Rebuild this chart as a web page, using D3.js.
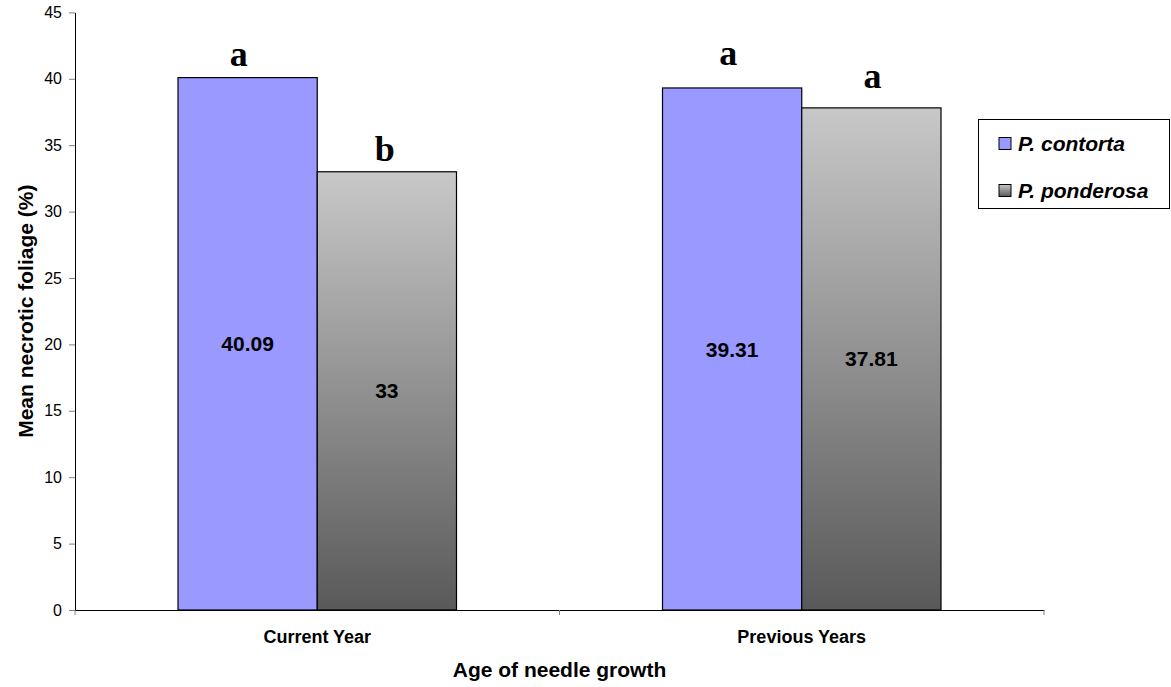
<!DOCTYPE html>
<html>
<head>
<meta charset="utf-8">
<script src="https://cdn.jsdelivr.net/npm/d3@7"></script>
<style>
  body { margin: 0; background: #fff; }
  text { font-family: Arial, "Liberation Sans", sans-serif; }
</style>
</head>
<body>
<svg width="1171" height="687"></svg>
<script>
var categories = ["Current Year", "Previous Years"];
var species = ["P. contorta", "P. ponderosa"];
var contorta = [40.09, 39.31];
var ponderosa = [33, 37.81];
var letters = [["a", "b"], ["a", "a"]];
var valueLabels = [["40.09", "33"], ["39.31", "37.81"]];
var yTicks = [0, 5, 10, 15, 20, 25, 30, 35, 40, 45];

var svg = d3.select("svg"),
    margin = {top: 12.4, right: 127, bottom: 77, left: 75},
    width = 1044 - margin.left,
    height = 610 - margin.top;

var g = svg.append("g")
    .attr("transform", "translate(" + margin.left + "," + margin.top + ")");

var defs = svg.append("defs");
var grad = defs.append("linearGradient")
    .attr("id", "grey")
    .attr("x1", 0).attr("y1", 0).attr("x2", 0).attr("y2", 1);
grad.append("stop").attr("offset", "0%").attr("stop-color", "#c8c8c8");
grad.append("stop").attr("offset", "100%").attr("stop-color", "#595959");

var fills = ["#9999ff", "url(#grey)"];

// hand-placed significance letters sit a bit off the bar centre
var letterDx = [[-9, -2], [-4, 1]],
    letterGap = [[12, 11], [23, 20]];

var x0 = d3.scaleBand().domain(categories).range([0, width]).padding(0);
var x1 = d3.scaleBand().domain(species)
    .range([103, x0.bandwidth() - 103]).padding(0);
var y = d3.scaleLinear().domain([0, 45]).range([height, 0]);

var data = categories.map(function(c, i) {
  return {cat: c, vals: [contorta[i], ponderosa[i]], i: i};
});

// axes
g.append("g")
    .attr("transform", "translate(0," + height + ")")
    .call(d3.axisBottom(x0).tickSize(0).tickFormat(""))
    .call(function(a) { a.select(".domain").attr("stroke", "#000"); });

g.append("g")
    .attr("transform", "translate(0," + height + ")")
    .selectAll("line.cut")
    .data([0, width / 2, width])
    .enter().append("line")
    .attr("x1", function(d) { return d; })
    .attr("x2", function(d) { return d; })
    .attr("y1", 0).attr("y2", 5)
    .attr("stroke", "#808080");

g.append("g")
    .call(d3.axisLeft(y).tickValues(yTicks).tickSize(6).tickSizeOuter(0).tickPadding(7))
    .call(function(a) {
      a.select(".domain").attr("stroke", "#000");
      a.selectAll(".tick line").attr("stroke", "#808080");
      a.selectAll(".tick text")
        .style("font-size", "16px")
        .attr("fill", "#000");
    });

// bars
var group = g.selectAll(".grp")
    .data(data)
    .enter().append("g")
    .attr("class", "grp")
    .attr("transform", function(d) { return "translate(" + x0(d.cat) + ",0)"; });

function cells(d) {
  return d.vals.map(function(v, j) { return {v: v, j: j, i: d.i}; });
}

group.selectAll("rect")
    .data(cells)
    .enter().append("rect")
    .attr("x", function(d) { return x1(species[d.j]); })
    .attr("y", function(d) { return y(d.v); })
    .attr("width", x1.bandwidth())
    .attr("height", function(d) { return height - y(d.v); })
    .attr("fill", function(d) { return fills[d.j]; })
    .attr("stroke", "#000")
    .attr("stroke-width", 1.2);

group.selectAll(".val")
    .data(cells)
    .enter().append("text")
    .attr("x", function(d) { return x1(species[d.j]) + x1.bandwidth() / 2; })
    .attr("y", function(d) { return (y(d.v) + height) / 2; })
    .attr("dy", "0.36em")
    .attr("text-anchor", "middle")
    .style("font-size", "21px")
    .style("font-weight", "bold")
    .text(function(d) { return valueLabels[d.i][d.j]; });

group.selectAll(".letter")
    .data(cells)
    .enter().append("text")
    .attr("x", function(d) { return x1(species[d.j]) + x1.bandwidth() / 2 + letterDx[d.i][d.j]; })
    .attr("y", function(d) { return y(d.v) - letterGap[d.i][d.j]; })
    .attr("text-anchor", "middle")
    .style("font-family", "'Liberation Serif', 'Times New Roman', serif")
    .style("font-size", "36px")
    .style("font-weight", "bold")
    .text(function(d) { return letters[d.i][d.j]; });

// category labels
g.selectAll(".cat")
    .data(categories)
    .enter().append("text")
    .attr("x", function(d) { return x0(d) + x0.bandwidth() / 2; })
    .attr("y", height + 33)
    .attr("text-anchor", "middle")
    .style("font-size", "18px")
    .style("font-weight", "bold")
    .text(function(d) { return d; });

// axis titles
svg.append("text")
    .attr("x", margin.left + width / 2)
    .attr("y", 677)
    .attr("text-anchor", "middle")
    .style("font-size", "21px")
    .style("font-weight", "bold")
    .text("Age of needle growth");

svg.append("text")
    .attr("transform", "translate(33," + (margin.top + height / 2) + ") rotate(-90)")
    .attr("text-anchor", "middle")
    .style("font-size", "21px")
    .style("font-weight", "bold")
    .text("Mean necrotic foliage (%)");

// legend
var legend = svg.append("g").attr("transform", "translate(978.5,119.5)");
legend.append("rect")
    .attr("width", 191).attr("height", 89)
    .attr("fill", "#fff").attr("stroke", "#000");

var item = legend.selectAll(".item")
    .data(species)
    .enter().append("g")
    .attr("transform", function(d, i) { return "translate(20.5," + (18 + i * 47) + ")"; });
item.append("rect")
    .attr("width", 12).attr("height", 12)
    .attr("fill", function(d, i) { return fills[i]; })
    .attr("stroke", "#000");
item.append("text")
    .attr("x", 19)
    .attr("y", 13)
    .style("font-size", "21px")
    .style("font-weight", "bold")
    .style("font-style", "italic")
    .text(function(d) { return d; });
</script>
</body>
</html>
